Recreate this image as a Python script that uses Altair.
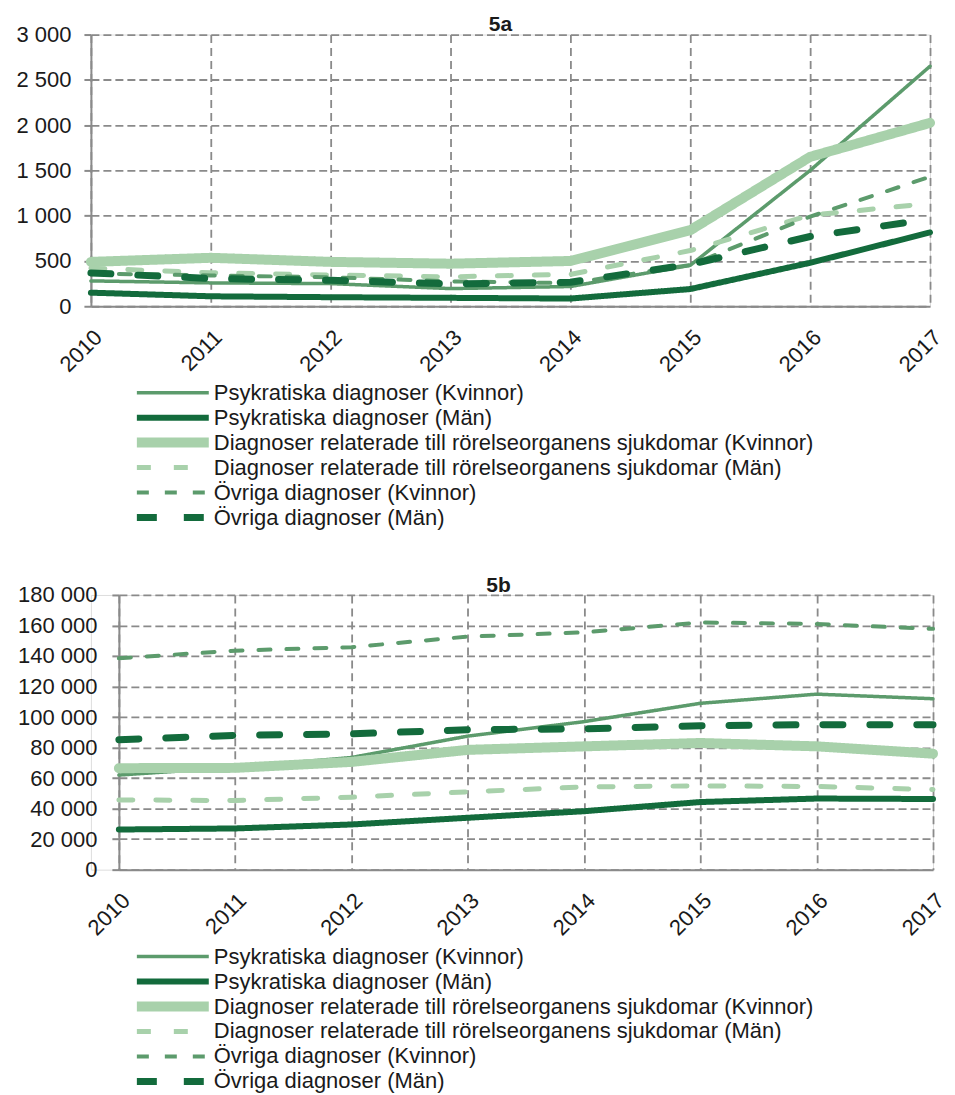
import altair as alt
import pandas as pd

years = ["2010", "2011", "2012", "2013", "2014", "2015", "2016", "2017"]

series = [
    "Psykratiska diagnoser (Kvinnor)",
    "Psykratiska diagnoser (Män)",
    "Diagnoser relaterade till rörelseorganens sjukdomar (Kvinnor)",
    "Diagnoser relaterade till rörelseorganens sjukdomar (Män)",
    "Övriga diagnoser (Kvinnor)",
    "Övriga diagnoser (Män)",
]

# 5a
psyk_k_a = [280, 258, 250, 195, 218, 452, 1500, 2650]
psyk_m_a = [150, 110, 100, 93, 85, 190, 480, 815]
ror_k_a = [490, 535, 490, 470, 500, 840, 1650, 2025]
ror_m_a = [420, 370, 345, 325, 352, 615, 1005, 1135]
ovr_k_a = [362, 340, 320, 275, 255, 455, 990, 1430]
ovr_m_a = [368, 306, 287, 247, 265, 462, 770, 962]

# 5b
psyk_k_b = [62000, 67000, 73500, 87500, 97000, 109000, 115000, 112000]
psyk_m_b = [26300, 27000, 29600, 34000, 38300, 44300, 46600, 46300]
ror_k_b = [66500, 66700, 70600, 78500, 80800, 83000, 80800, 76000]
ror_m_b = [45700, 45300, 47500, 51000, 54200, 54900, 54500, 52500]
ovr_k_b = [138500, 143500, 145800, 152700, 155500, 162000, 161000, 157800]
ovr_m_b = [85200, 88000, 89000, 91700, 92300, 94300, 95000, 95000]

colors = ["#5c9b6c", "#136b3c", "#a8d1ab", "#a8d1ab", "#5c9b6c", "#136b3c"]
dashes = [[1, 0], [1, 0], [1, 0], [14, 23], [12, 16], [20, 27]]
widths = [3.5, 6, 10, 5, 4, 7]

FONT = "Liberation Sans"
GRAY = "#8a8a8a"
TXT = "#1a1a1a"
IND = dict(color="independent", strokeDash="independent", strokeWidth="independent")


def make_df(all_vals):
    rows = []
    for s, vals in zip(series, all_vals):
        for y, v in zip(years, vals):
            rows.append({"year": y, "series": s, "value": v})
    return pd.DataFrame(rows)


def panel(all_vals, title, ymax, step, w, h, shift, label_pad, ly, toff, tdx):
    df = make_df(all_vals)
    leg = alt.Legend(
        title=None, orient="none", legendX=41, legendY=ly, direction="vertical",
        symbolType="stroke", symbolSize=72 * 72, clipHeight=25, rowPadding=0,
        labelFont=FONT, labelFontSize=22, labelColor=TXT, labelLimit=0,
        labelOffset=0, padding=0, symbolOpacity=1,
    )
    return alt.Chart(df, title=alt.TitleParams(
        title, font=FONT, fontSize=21, fontWeight="bold", color=TXT,
        anchor="middle", frame="group", baseline="alphabetic", offset=toff, dx=tdx,
    )).mark_line(strokeCap="round", strokeJoin="round").encode(
        x=alt.X("year:O", scale=alt.Scale(type="point", padding=0, range=[shift, w]),
                axis=alt.Axis(title=None, labelAngle=-45, ticks=False, labelPadding=20,
                              labelFont=FONT, labelFontSize=22, labelColor=TXT,
                              domainColor=GRAY, domainWidth=2, grid=True,
                              gridColor=GRAY, gridDash=[8, 5], gridWidth=1.8)),
        y=alt.Y("value:Q", scale=alt.Scale(domain=[0, ymax], nice=False),
                axis=alt.Axis(title=None, values=list(range(0, ymax + 1, step)),
                              format=",d", labelPadding=label_pad, tickSize=7, offset=-shift,
                              tickColor=GRAY, tickWidth=2, domainColor=GRAY, domainWidth=2,
                              labelFont=FONT, labelFontSize=22, labelColor=TXT,
                              grid=True, gridColor=GRAY, gridDash=[8, 4], gridWidth=1.8)),
        color=alt.Color("series:N", scale=alt.Scale(domain=series, range=colors), legend=leg),
        strokeDash=alt.StrokeDash("series:N", scale=alt.Scale(domain=series, range=dashes), legend=leg),
        strokeWidth=alt.StrokeWidth("series:N", scale=alt.Scale(type="ordinal", domain=series, range=widths), legend=leg),
    ).properties(width=w, height=h)


a = panel([psyk_k_a, psyk_m_a, ror_k_a, ror_m_a, ovr_k_a, ovr_m_a], "5a", 3000, 500,
          840, 272, 0, 13, 346, -28.6, -10)
b = panel([psyk_k_b, psyk_m_b, ror_k_b, ror_m_b, ovr_k_b, ovr_m_b], "5b", 180000, 20000,
          843, 275, 28, 15, 349.5, -28.7, -13.5)

chart = alt.vconcat(a, b, spacing=43).resolve_scale(**IND).resolve_legend(**IND).properties(
    padding={"left": 7, "top": 5, "right": -2, "bottom": 0}
).configure_view(stroke=None).configure(
    locale={"number": {"decimal": ",", "thousands": " ", "grouping": [3], "currency": ["", " kr"]}}
)

chart.save("out.html", embed_options={"renderer": "svg", "actions": False})
